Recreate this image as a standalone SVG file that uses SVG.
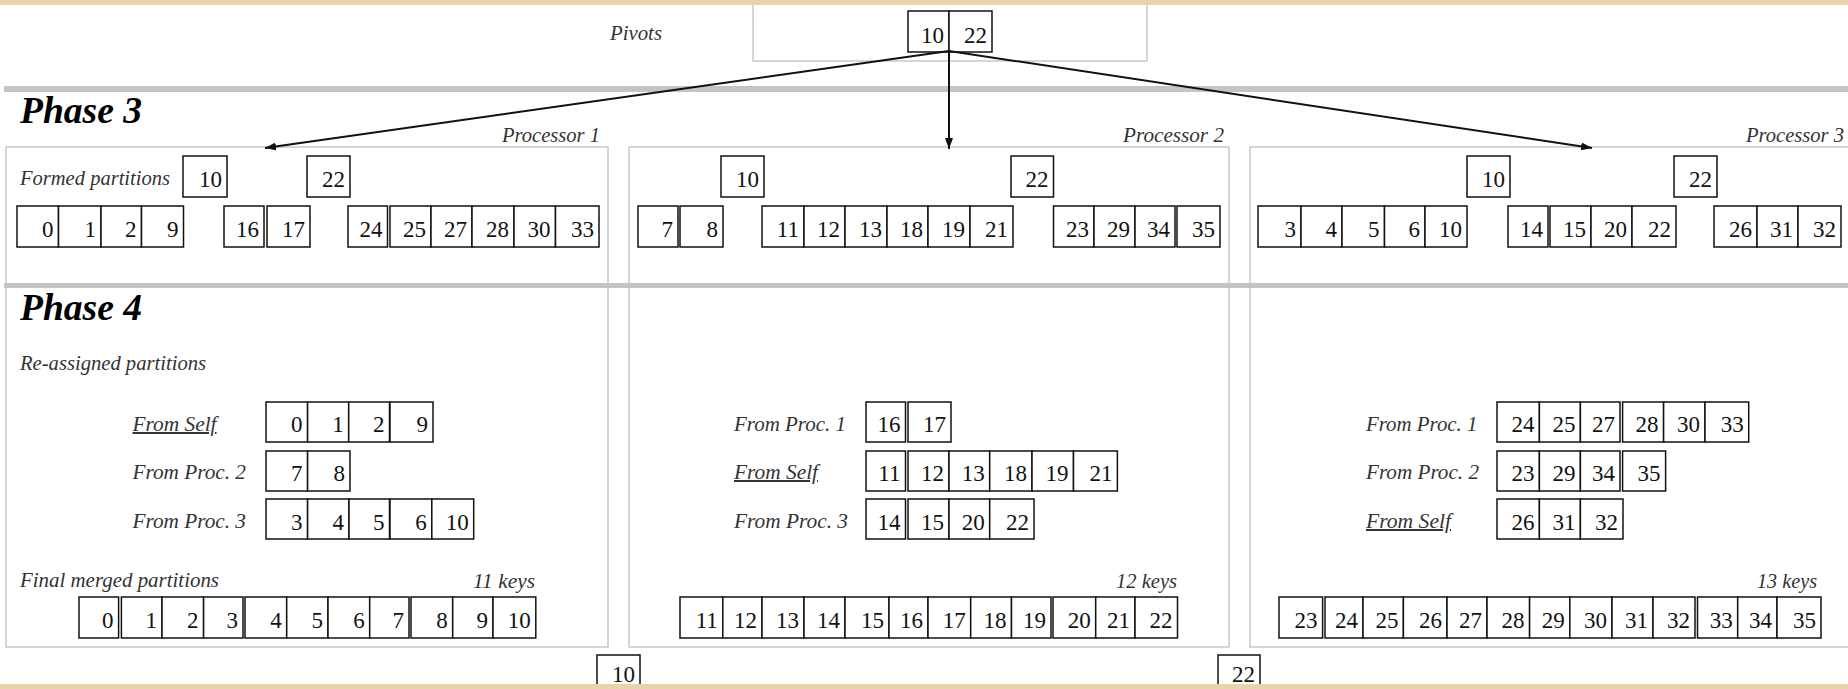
<svg xmlns="http://www.w3.org/2000/svg" width="1848" height="689" viewBox="0 0 1848 689">
<style>
.c{fill:#fff;stroke:#111;stroke-width:1.5}
.f{fill:none;stroke:#c8c8c8;stroke-width:1.5}
.bar{fill:#c4c4c4}
.n{font-family:"Liberation Serif","Times New Roman",serif;font-size:23px;text-anchor:end;fill:#111}
.l{font-family:"Liberation Serif","Times New Roman",serif;font-style:italic;font-size:20px;fill:#333}
.u{text-decoration:underline}
.h{font-family:"Liberation Serif","Times New Roman",serif;font-style:italic;font-weight:bold;font-size:38px;fill:#000}
.beige{fill:#e6d4ab}
.a{stroke:#111;stroke-width:2;fill:none;marker-end:url(#ah)}
</style>
<defs>
<marker id="ah" markerUnits="userSpaceOnUse" markerWidth="12" markerHeight="8" refX="11" refY="4" orient="auto">
<path d="M0,0 L11,4 L0,8 Z" fill="#111"/>
</marker>
</defs>
<rect x="0" y="0" width="1848" height="689" fill="#fff"/>

<g id="frames">
<rect class="f" x="753" y="-5" width="394" height="66"/>
<rect class="f" x="6" y="147" width="602" height="500"/>
<rect class="f" x="629" y="147" width="600" height="500"/>
<rect class="f" x="1250" y="147" width="610" height="500"/>
</g>
<g id="phase-bars">
<rect class="bar" x="4" y="86" width="1844" height="6"/>
<rect class="bar" x="4" y="283" width="1844" height="5"/>
<text class="h" x="20" y="123" textLength="122" lengthAdjust="spacingAndGlyphs">Phase 3</text>
<text class="h" x="20" y="320" textLength="122" lengthAdjust="spacingAndGlyphs">Phase 4</text>
</g>

<g id="pivots">
<text class="l" x="610" y="40" textLength="52" lengthAdjust="spacingAndGlyphs">Pivots</text>
<rect class="c" x="908" y="11" width="41" height="41"/><text class="n" x="944" y="43">10</text>
<rect class="c" x="949" y="11" width="43" height="41"/><text class="n" x="987" y="43">22</text>
</g>

<g id="connectors">
<line class="a" x1="949" y1="51" x2="265" y2="148"/>
<line class="a" x1="949" y1="51" x2="949" y2="149"/>
<line class="a" x1="949" y1="51" x2="1592" y2="148"/>
</g>

<g id="processor1">
<text class="l" x="502" y="142" textLength="98" lengthAdjust="spacingAndGlyphs">Processor 1</text>
<text class="l" x="20" y="185" textLength="150" lengthAdjust="spacingAndGlyphs">Formed partitions</text>
<rect class="c" x="183" y="156" width="44" height="41"/><text class="n" x="222" y="187">10</text>
<rect class="c" x="307" y="156" width="43" height="41"/><text class="n" x="345" y="187">22</text>
<rect class="c" x="17" y="206" width="41.5" height="41"/><text class="n" x="53.5" y="237">0</text>
<rect class="c" x="58.5" y="206" width="42.5" height="41"/><text class="n" x="96" y="237">1</text>
<rect class="c" x="101" y="206" width="40.5" height="41"/><text class="n" x="136.5" y="237">2</text>
<rect class="c" x="141.5" y="206" width="42" height="41"/><text class="n" x="178.5" y="237">9</text>
<rect class="c" x="224" y="206" width="40" height="41"/><text class="n" x="259" y="237">16</text>
<rect class="c" x="267" y="206" width="43" height="41"/><text class="n" x="305" y="237">17</text>
<rect class="c" x="348" y="206" width="39.5" height="41"/><text class="n" x="382.5" y="237">24</text>
<rect class="c" x="390" y="206" width="41" height="41"/><text class="n" x="426" y="237">25</text>
<rect class="c" x="431" y="206" width="41" height="41"/><text class="n" x="467" y="237">27</text>
<rect class="c" x="472" y="206" width="42" height="41"/><text class="n" x="509" y="237">28</text>
<rect class="c" x="514" y="206" width="41.5" height="41"/><text class="n" x="550.5" y="237">30</text>
<rect class="c" x="555.5" y="206" width="43.5" height="41"/><text class="n" x="594" y="237">33</text>

<text class="l" x="20" y="370" textLength="186" lengthAdjust="spacingAndGlyphs">Re-assigned partitions</text>
<text class="l u" x="132.5" y="431" textLength="84" lengthAdjust="spacingAndGlyphs">From Self</text>
<text class="l" x="132.5" y="479" textLength="113.5" lengthAdjust="spacingAndGlyphs">From Proc. 2</text>
<text class="l" x="132.5" y="528" textLength="113.5" lengthAdjust="spacingAndGlyphs">From Proc. 3</text>
<rect class="c" x="266" y="402" width="41.6" height="40"/><text class="n" x="302.6" y="432">0</text>
<rect class="c" x="307.6" y="402" width="41.1" height="40"/><text class="n" x="343.7" y="432">1</text>
<rect class="c" x="348.7" y="402" width="40.8" height="40"/><text class="n" x="384.5" y="432">2</text>
<rect class="c" x="390" y="402" width="43" height="40"/><text class="n" x="428" y="432">9</text>
<rect class="c" x="266" y="451" width="41.6" height="40"/><text class="n" x="302.6" y="481">7</text>
<rect class="c" x="307.6" y="451" width="42.4" height="40"/><text class="n" x="345" y="481">8</text>
<rect class="c" x="266" y="499" width="41.6" height="40"/><text class="n" x="302.6" y="530">3</text>
<rect class="c" x="307.6" y="499" width="41.4" height="40"/><text class="n" x="344" y="530">4</text>
<rect class="c" x="349" y="499" width="40.5" height="40"/><text class="n" x="384.5" y="530">5</text>
<rect class="c" x="390" y="499" width="41.8" height="40"/><text class="n" x="426.8" y="530">6</text>
<rect class="c" x="431.8" y="499" width="41.9" height="40"/><text class="n" x="468.7" y="530">10</text>

<text class="l" x="20" y="587" textLength="199" lengthAdjust="spacingAndGlyphs">Final merged partitions</text>
<text class="l" x="473" y="588" textLength="62" lengthAdjust="spacingAndGlyphs">11 keys</text>
<rect class="c" x="79" y="597" width="39.6" height="41"/><text class="n" x="113.6" y="628">0</text>
<rect class="c" x="121.4" y="597" width="40.6" height="41"/><text class="n" x="157" y="628">1</text>
<rect class="c" x="162" y="597" width="41.6" height="41"/><text class="n" x="198.6" y="628">2</text>
<rect class="c" x="203.6" y="597" width="39.4" height="41"/><text class="n" x="238" y="628">3</text>
<rect class="c" x="245" y="597" width="41.7" height="41"/><text class="n" x="281.7" y="628">4</text>
<rect class="c" x="286.7" y="597" width="41.3" height="41"/><text class="n" x="323" y="628">5</text>
<rect class="c" x="328" y="597" width="41.7" height="41"/><text class="n" x="364.7" y="628">6</text>
<rect class="c" x="369.7" y="597" width="39.3" height="41"/><text class="n" x="404" y="628">7</text>
<rect class="c" x="411" y="597" width="41.7" height="41"/><text class="n" x="447.7" y="628">8</text>
<rect class="c" x="452.7" y="597" width="40.3" height="41"/><text class="n" x="488" y="628">9</text>
<rect class="c" x="493" y="597" width="42.8" height="41"/><text class="n" x="530.8" y="628">10</text>
</g>

<g id="processor2">
<text class="l" x="1123" y="142" textLength="101" lengthAdjust="spacingAndGlyphs">Processor 2</text>
<rect class="c" x="721" y="156" width="43" height="41"/><text class="n" x="759" y="187">10</text>
<rect class="c" x="1011" y="156" width="42.5" height="41"/><text class="n" x="1048.5" y="187">22</text>
<rect class="c" x="638" y="206" width="40" height="41"/><text class="n" x="673" y="237">7</text>
<rect class="c" x="680" y="206" width="43" height="41"/><text class="n" x="718" y="237">8</text>
<rect class="c" x="762" y="206" width="42" height="41"/><text class="n" x="799" y="237">11</text>
<rect class="c" x="804" y="206" width="41" height="41"/><text class="n" x="840" y="237">12</text>
<rect class="c" x="845" y="206" width="42" height="41"/><text class="n" x="882" y="237">13</text>
<rect class="c" x="887" y="206" width="41" height="41"/><text class="n" x="923" y="237">18</text>
<rect class="c" x="928" y="206" width="42" height="41"/><text class="n" x="965" y="237">19</text>
<rect class="c" x="970" y="206" width="43" height="41"/><text class="n" x="1008" y="237">21</text>
<rect class="c" x="1053.5" y="206" width="40.5" height="41"/><text class="n" x="1089" y="237">23</text>
<rect class="c" x="1094" y="206" width="41" height="41"/><text class="n" x="1130" y="237">29</text>
<rect class="c" x="1135" y="206" width="40" height="41"/><text class="n" x="1170" y="237">34</text>
<rect class="c" x="1177" y="206" width="43" height="41"/><text class="n" x="1215" y="237">35</text>

<text class="l" x="734" y="431" textLength="112" lengthAdjust="spacingAndGlyphs">From Proc. 1</text>
<text class="l u" x="734" y="479" textLength="84" lengthAdjust="spacingAndGlyphs">From Self</text>
<text class="l" x="734" y="528" textLength="114" lengthAdjust="spacingAndGlyphs">From Proc. 3</text>
<rect class="c" x="866" y="402" width="39.5" height="40"/><text class="n" x="900.5" y="432">16</text>
<rect class="c" x="908" y="402" width="43" height="40"/><text class="n" x="946" y="432">17</text>
<rect class="c" x="866" y="451" width="39.5" height="40"/><text class="n" x="900.5" y="481">11</text>
<rect class="c" x="908" y="451" width="41" height="40"/><text class="n" x="944" y="481">12</text>
<rect class="c" x="949" y="451" width="40.7" height="40"/><text class="n" x="984.7" y="481">13</text>
<rect class="c" x="989.7" y="451" width="42.3" height="40"/><text class="n" x="1027" y="481">18</text>
<rect class="c" x="1032" y="451" width="41.5" height="40"/><text class="n" x="1068.5" y="481">19</text>
<rect class="c" x="1073.5" y="451" width="43.9" height="40"/><text class="n" x="1112.4" y="481">21</text>
<rect class="c" x="866" y="499" width="39.5" height="40"/><text class="n" x="900.5" y="530">14</text>
<rect class="c" x="908" y="499" width="41" height="40"/><text class="n" x="944" y="530">15</text>
<rect class="c" x="949" y="499" width="40.7" height="40"/><text class="n" x="984.7" y="530">20</text>
<rect class="c" x="989.7" y="499" width="44.3" height="40"/><text class="n" x="1029" y="530">22</text>

<text class="l" x="1116" y="588" textLength="61" lengthAdjust="spacingAndGlyphs">12 keys</text>
<rect class="c" x="680" y="597" width="42.8" height="41"/><text class="n" x="717.8" y="628">11</text>
<rect class="c" x="722.8" y="597" width="39.2" height="41"/><text class="n" x="757" y="628">12</text>
<rect class="c" x="762" y="597" width="42" height="41"/><text class="n" x="799" y="628">13</text>
<rect class="c" x="804" y="597" width="41" height="41"/><text class="n" x="840" y="628">14</text>
<rect class="c" x="845" y="597" width="44" height="41"/><text class="n" x="884" y="628">15</text>
<rect class="c" x="889" y="597" width="39" height="41"/><text class="n" x="923" y="628">16</text>
<rect class="c" x="928" y="597" width="42.7" height="41"/><text class="n" x="965.7" y="628">17</text>
<rect class="c" x="970.7" y="597" width="40.8" height="41"/><text class="n" x="1006.5" y="628">18</text>
<rect class="c" x="1011.5" y="597" width="39.5" height="41"/><text class="n" x="1046" y="628">19</text>
<rect class="c" x="1053" y="597" width="42.7" height="41"/><text class="n" x="1090.7" y="628">20</text>
<rect class="c" x="1095.7" y="597" width="39.3" height="41"/><text class="n" x="1130" y="628">21</text>
<rect class="c" x="1135" y="597" width="42.5" height="41"/><text class="n" x="1172.5" y="628">22</text>
</g>

<g id="processor3">
<text class="l" x="1746" y="142" textLength="98" lengthAdjust="spacingAndGlyphs">Processor 3</text>
<rect class="c" x="1467" y="156" width="43" height="41"/><text class="n" x="1505" y="187">10</text>
<rect class="c" x="1674" y="156" width="43" height="41"/><text class="n" x="1712" y="187">22</text>
<rect class="c" x="1258" y="206" width="43" height="41"/><text class="n" x="1296" y="237">3</text>
<rect class="c" x="1301" y="206" width="41" height="41"/><text class="n" x="1337" y="237">4</text>
<rect class="c" x="1342" y="206" width="42.5" height="41"/><text class="n" x="1379.5" y="237">5</text>
<rect class="c" x="1384.5" y="206" width="40.5" height="41"/><text class="n" x="1420" y="237">6</text>
<rect class="c" x="1425" y="206" width="42" height="41"/><text class="n" x="1462" y="237">10</text>
<rect class="c" x="1508" y="206" width="40" height="41"/><text class="n" x="1543" y="237">14</text>
<rect class="c" x="1550" y="206" width="41" height="41"/><text class="n" x="1586" y="237">15</text>
<rect class="c" x="1591" y="206" width="41" height="41"/><text class="n" x="1627" y="237">20</text>
<rect class="c" x="1632" y="206" width="44" height="41"/><text class="n" x="1671" y="237">22</text>
<rect class="c" x="1714" y="206" width="43" height="41"/><text class="n" x="1752" y="237">26</text>
<rect class="c" x="1757" y="206" width="41" height="41"/><text class="n" x="1793" y="237">31</text>
<rect class="c" x="1798" y="206" width="43" height="41"/><text class="n" x="1836" y="237">32</text>

<text class="l" x="1366" y="431" textLength="111.5" lengthAdjust="spacingAndGlyphs">From Proc. 1</text>
<text class="l" x="1366" y="479" textLength="113" lengthAdjust="spacingAndGlyphs">From Proc. 2</text>
<text class="l u" x="1366" y="528" textLength="85" lengthAdjust="spacingAndGlyphs">From Self</text>
<rect class="c" x="1497" y="402" width="42.4" height="40"/><text class="n" x="1534.4" y="432">24</text>
<rect class="c" x="1539.4" y="402" width="41" height="40"/><text class="n" x="1575.4" y="432">25</text>
<rect class="c" x="1580.4" y="402" width="39.6" height="40"/><text class="n" x="1615" y="432">27</text>
<rect class="c" x="1622.6" y="402" width="41" height="40"/><text class="n" x="1658.6" y="432">28</text>
<rect class="c" x="1663.6" y="402" width="41.4" height="40"/><text class="n" x="1700" y="432">30</text>
<rect class="c" x="1705" y="402" width="43.7" height="40"/><text class="n" x="1743.7" y="432">33</text>
<rect class="c" x="1497" y="451" width="42.4" height="40"/><text class="n" x="1534.4" y="481">23</text>
<rect class="c" x="1539.4" y="451" width="41" height="40"/><text class="n" x="1575.4" y="481">29</text>
<rect class="c" x="1580.4" y="451" width="39.6" height="40"/><text class="n" x="1615" y="481">34</text>
<rect class="c" x="1622.6" y="451" width="43" height="40"/><text class="n" x="1660.6" y="481">35</text>
<rect class="c" x="1497" y="499" width="42.4" height="40"/><text class="n" x="1534.4" y="530">26</text>
<rect class="c" x="1539.4" y="499" width="41" height="40"/><text class="n" x="1575.4" y="530">31</text>
<rect class="c" x="1580.4" y="499" width="42.6" height="40"/><text class="n" x="1618" y="530">32</text>

<text class="l" x="1757" y="588" textLength="60" lengthAdjust="spacingAndGlyphs">13 keys</text>
<rect class="c" x="1279" y="597" width="43.6" height="41"/><text class="n" x="1317.6" y="628">23</text>
<rect class="c" x="1325" y="597" width="38" height="41"/><text class="n" x="1358" y="628">24</text>
<rect class="c" x="1363" y="597" width="40.4" height="41"/><text class="n" x="1398.4" y="628">25</text>
<rect class="c" x="1403.4" y="597" width="43.6" height="41"/><text class="n" x="1442" y="628">26</text>
<rect class="c" x="1447" y="597" width="40" height="41"/><text class="n" x="1482" y="628">27</text>
<rect class="c" x="1487" y="597" width="42.6" height="41"/><text class="n" x="1524.6" y="628">28</text>
<rect class="c" x="1529.6" y="597" width="40.2" height="41"/><text class="n" x="1564.8" y="628">29</text>
<rect class="c" x="1569.8" y="597" width="42.2" height="41"/><text class="n" x="1607" y="628">30</text>
<rect class="c" x="1612" y="597" width="41" height="41"/><text class="n" x="1648" y="628">31</text>
<rect class="c" x="1653" y="597" width="42" height="41"/><text class="n" x="1690" y="628">32</text>
<rect class="c" x="1697.5" y="597" width="40.2" height="41"/><text class="n" x="1732.7" y="628">33</text>
<rect class="c" x="1737.7" y="597" width="39.3" height="41"/><text class="n" x="1772" y="628">34</text>
<rect class="c" x="1777" y="597" width="44" height="41"/><text class="n" x="1816" y="628">35</text>
</g>

<g id="next-pivots">
<rect class="c" x="597" y="655" width="43" height="45"/><text class="n" x="635" y="682">10</text>
<rect class="c" x="1218" y="655" width="42" height="45"/><text class="n" x="1255" y="682">22</text>
</g>

<rect class="beige" x="0" y="0" width="1848" height="5"/>
<rect class="beige" x="0" y="684" width="1848" height="5"/>
</svg>
